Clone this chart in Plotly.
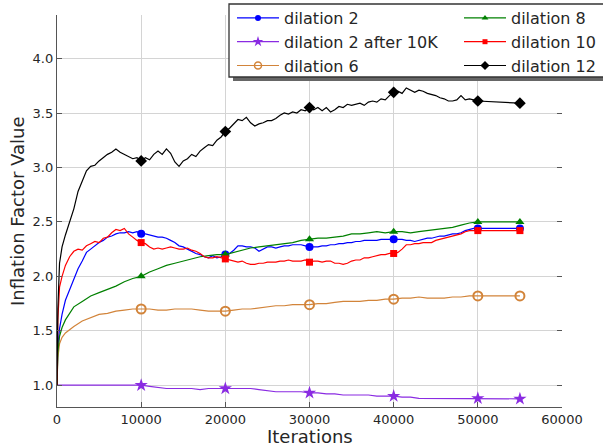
import plotly.graph_objects as go

# ---------------- data ----------------
ITER_FINE = [0, 100, 300, 600,
             1000, 1500, 2000, 2500, 3000, 3500, 4000, 4500, 5000, 5500,
             6000, 6500, 7000, 7500, 8000, 8500, 9000, 9500, 10000, 10500,
             11000, 11500, 12000, 12500, 13000, 13500, 14000, 14500, 15000, 15500,
             16000, 16500, 17000, 17500, 18000, 18500, 19000, 19500, 20000, 20500,
             21000, 21500, 22000, 22500, 23000, 23500, 24000, 24500, 25000, 25500,
             26000, 26500, 27000, 27500, 28000, 28500, 29000, 29500, 30000, 30500,
             31000, 31500, 32000, 32500, 33000, 33500, 34000, 34500, 35000, 35500,
             36000, 36500, 37000, 37500, 38000, 38500, 39000, 39500, 40000, 40500,
             41000, 41500, 42000, 42500, 43000, 43500, 44000, 44500, 45000, 45500,
             46000, 46500, 47000, 47500, 48000, 48500, 49000, 49500, 50000,
             55000]

ITER_COARSE = [0, 100, 300, 600,
               1000, 2000, 3000, 4000, 5000, 6000, 7000, 8000, 9000, 10000,
               11000, 12000, 13000, 14000, 15000, 16000, 17000, 18000, 19000, 20000,
               21000, 22000, 23000, 24000, 25000, 26000, 27000, 28000, 29000, 30000,
               31000, 32000, 33000, 34000, 35000, 36000, 37000, 38000, 39000, 40000,
               41000, 42000, 43000, 44000, 45000, 46000, 47000, 48000, 49000, 50000,
               55000]

MARKER_ITERS = [10000, 20000, 30000, 40000, 50000, 55000]

DIL2 = [1.00, 1.35, 1.52, 1.65,
        1.78, 1.88, 1.97, 2.07, 2.14, 2.22, 2.25, 2.28, 2.31, 2.33,
        2.36, 2.37, 2.39, 2.40, 2.40, 2.41, 2.40, 2.41, 2.39, 2.39,
        2.38, 2.37, 2.36, 2.36, 2.35, 2.33, 2.31, 2.28, 2.27, 2.25,
        2.23, 2.21, 2.20, 2.18, 2.17, 2.19, 2.17, 2.18, 2.20, 2.21,
        2.24, 2.28, 2.28, 2.27, 2.27, 2.26, 2.23, 2.25, 2.27, 2.27,
        2.26, 2.27, 2.28, 2.28, 2.29, 2.29, 2.29, 2.28, 2.27, 2.27,
        2.27, 2.28, 2.28, 2.29, 2.29, 2.30, 2.30, 2.31, 2.31, 2.32,
        2.32, 2.33, 2.33, 2.33, 2.33, 2.34, 2.34, 2.34, 2.34, 2.34,
        2.34, 2.33, 2.33, 2.32, 2.33, 2.34, 2.35, 2.35, 2.36, 2.37,
        2.37, 2.38, 2.39, 2.39, 2.40, 2.42, 2.43, 2.44, 2.44,
        2.44]

DIL10 = [1.00, 1.60, 1.90, 2.00,
         2.10, 2.18, 2.23, 2.25, 2.24, 2.28, 2.30, 2.32, 2.31, 2.35,
         2.36, 2.40, 2.43, 2.42, 2.44, 2.39, 2.36, 2.33, 2.31, 2.30,
         2.27, 2.25, 2.26, 2.25, 2.26, 2.27, 2.26, 2.25, 2.25, 2.26,
         2.24, 2.23, 2.21, 2.18, 2.17, 2.17, 2.18, 2.17, 2.16, 2.15,
         2.14, 2.13, 2.14, 2.12, 2.11, 2.11, 2.12, 2.12, 2.13, 2.13,
         2.13, 2.14, 2.14, 2.15, 2.14, 2.14, 2.14, 2.15, 2.13, 2.14,
         2.14, 2.13, 2.14, 2.14, 2.12, 2.12, 2.11, 2.12, 2.14, 2.15,
         2.15, 2.17, 2.17, 2.18, 2.19, 2.20, 2.20, 2.21, 2.21, 2.22,
         2.25, 2.29, 2.29, 2.30, 2.30, 2.31, 2.31, 2.31, 2.33, 2.34,
         2.35, 2.36, 2.37, 2.38, 2.39, 2.41, 2.42, 2.42, 2.42,
         2.42]

DIL12 = [1.00, 1.70, 2.12, 2.27,
         2.38, 2.50, 2.62, 2.78, 2.88, 2.97, 3.01, 3.02, 3.06, 3.09,
         3.12, 3.14, 3.17, 3.14, 3.12, 3.10, 3.08, 3.09, 3.06, 3.09,
         3.07, 3.12, 3.15, 3.12, 3.17, 3.13, 3.05, 3.01, 3.06, 3.08,
         3.12, 3.10, 3.15, 3.18, 3.21, 3.20, 3.25, 3.28, 3.33, 3.36,
         3.40, 3.44, 3.43, 3.46, 3.41, 3.38, 3.40, 3.41, 3.43, 3.43,
         3.45, 3.48, 3.50, 3.49, 3.51, 3.50, 3.53, 3.52, 3.55, 3.53,
         3.55, 3.52, 3.55, 3.51, 3.53, 3.56, 3.55, 3.58, 3.57, 3.58,
         3.59, 3.57, 3.60, 3.61, 3.60, 3.63, 3.62, 3.66, 3.69, 3.70,
         3.68, 3.73, 3.71, 3.69, 3.71, 3.70, 3.68, 3.67, 3.66, 3.64,
         3.63, 3.61, 3.61, 3.62, 3.66, 3.62, 3.63, 3.62, 3.61,
         3.59]

DIL2_AFTER_10K = [1.00, 1.00, 1.00, 1.00,
                  1.00, 1.00, 1.00, 1.00, 1.00, 1.00, 1.00, 1.00, 1.00, 1.00,
                  0.99, 0.98, 0.97, 0.97, 0.97, 0.97, 0.96, 0.97, 0.97, 0.97,
                  0.97, 0.97, 0.97, 0.96, 0.95, 0.94, 0.94, 0.94, 0.94, 0.93,
                  0.93, 0.92, 0.92, 0.91, 0.91, 0.91, 0.91, 0.90, 0.90, 0.90,
                  0.89, 0.89, 0.88, 0.88, 0.88, 0.88, 0.88, 0.88, 0.88, 0.88,
                  0.875]

DIL6 = [1.00, 1.25, 1.38, 1.44,
        1.48, 1.54, 1.59, 1.62, 1.65, 1.66, 1.68, 1.69, 1.70, 1.70,
        1.70, 1.69, 1.69, 1.70, 1.70, 1.70, 1.69, 1.68, 1.68, 1.68,
        1.69, 1.70, 1.70, 1.71, 1.72, 1.73, 1.73, 1.74, 1.74, 1.74,
        1.75, 1.75, 1.76, 1.77, 1.77, 1.77, 1.78, 1.78, 1.79, 1.79,
        1.80, 1.80, 1.81, 1.80, 1.80, 1.80, 1.81, 1.81, 1.82, 1.82,
        1.82]

DIL8 = [1.00, 1.30, 1.45, 1.53,
        1.60, 1.72, 1.77, 1.82, 1.85, 1.88, 1.91, 1.95, 1.98, 2.00,
        2.04, 2.07, 2.10, 2.12, 2.14, 2.16, 2.18, 2.19, 2.20, 2.20,
        2.22, 2.24, 2.26, 2.27, 2.28, 2.29, 2.30, 2.31, 2.33, 2.34,
        2.35, 2.35, 2.36, 2.37, 2.39, 2.39, 2.40, 2.41, 2.40, 2.41,
        2.41, 2.40, 2.41, 2.42, 2.43, 2.44, 2.45, 2.47, 2.49, 2.50,
        2.50]

Y_TICKS = [1.0, 1.5, 2.0, 2.5, 3.0, 3.5, 4.0]
X_TICKS = [0, 10000, 20000, 30000, 40000, 50000, 60000]
X_TITLE = "Iterations"
Y_TITLE = "Inflation Factor Value"

# ---------------- figure ----------------
FONT = "DejaVu Sans"
TXT = "#262626"
AX = "#555555"
GRID = "#d4d4d4"

series = [
    # name, x, y, color, symbol, size, legend
    ("dilation 2", ITER_FINE, DIL2, "#0000ff", "circle", 8, "legend"),
    ("dilation 2 after 10K", ITER_COARSE, DIL2_AFTER_10K, "#8a2be2", "star", 10, "legend"),
    ("dilation 6", ITER_COARSE, DIL6, "#d2843a", "circle-open", 9, "legend"),
    ("dilation 8", ITER_COARSE, DIL8, "#008000", "triangle-up", 8, "legend2"),
    ("dilation 10", ITER_FINE, DIL10, "#ff0000", "square", 7, "legend2"),
    ("dilation 12", ITER_FINE, DIL12, "#000000", "diamond", 9, "legend2"),
]

fig = go.Figure()
for name, xs, ys, col, sym, sz, leg in series:
    mline = dict(color=col, width=2) if sym.endswith("open") else dict(width=0)
    fig.add_trace(go.Scatter(x=xs, y=ys, mode="lines", line=dict(color=col, width=1.2),
                             showlegend=False, hoverinfo="skip"))
    mx = [x for x in xs if x in MARKER_ITERS]
    my = [y for x, y in zip(xs, ys) if x in MARKER_ITERS]
    fig.add_trace(go.Scatter(x=mx, y=my, mode="markers",
                             marker=dict(color=col, symbol=sym, size=sz, line=mline),
                             showlegend=False))
    lmline = dict(color=col, width=1.5) if sym.endswith("open") else dict(width=0)
    fig.add_trace(go.Scatter(x=[None], y=[None], mode="lines+markers", name=name,
                             line=dict(color=col, width=1.2),
                             marker=dict(color=col, symbol=sym, size=sz - 2, line=lmline),
                             legend=leg, showlegend=True))

W, H = 603, 448
L, R, T, B = 57, 41, 15, 41
PW, PH = W - L - R, H - T - B


def px_x(p):
    return (p - L) / PW


def px_y(p):
    return (H - B - p) / PH


LEG_FONT = dict(family=FONT, size=16, color=TXT)

fig.update_layout(
    width=W, height=H,
    margin=dict(l=L, r=R, t=T, b=B, pad=0, autoexpand=False),
    plot_bgcolor="white", paper_bgcolor="white",
    font=dict(family=FONT, size=13, color=TXT),
    xaxis=dict(range=[0, 60000], tickvals=X_TICKS, tickformat="d",
               showgrid=True, gridcolor=GRID, gridwidth=1, zeroline=False,
               showline=True, linecolor=AX, linewidth=1.3,
               ticks="inside", ticklen=5, tickcolor=AX,
               automargin=False),
    yaxis=dict(range=[0.8, 4.4], tickvals=Y_TICKS, tickformat=".1f",
               showgrid=True, gridcolor=GRID, gridwidth=1, zeroline=False,
               showline=True, linecolor=AX, linewidth=1.3,
               ticks="inside", ticklen=5, tickcolor=AX,
               automargin=False),
    yaxis2=dict(range=[0.8, 4.4], tickvals=Y_TICKS, overlaying="y", side="right",
                anchor="x", showticklabels=False, showgrid=False, zeroline=False,
                showline=False, ticks="inside", ticklen=5, tickcolor=AX,
                automargin=False),
    legend=dict(xref="container", yref="container",
                x=232 / W, y=1 - 1 / H, xanchor="left", yanchor="top",
                bgcolor="rgba(0,0,0,0)", borderwidth=0, itemwidth=42,
                font=LEG_FONT),
    legend2=dict(xref="container", yref="container",
                 x=459 / W, y=1 - 1 / H, xanchor="left", yanchor="top",
                 bgcolor="rgba(0,0,0,0)", borderwidth=0, itemwidth=42,
                 font=LEG_FONT),
    annotations=[
        dict(text=X_TITLE, xref="paper", yref="paper", x=0.5, y=px_y(437),
             xanchor="center", yanchor="middle", showarrow=False,
             font=dict(family=FONT, size=18, color=TXT)),
        dict(text=Y_TITLE, xref="paper", yref="paper", x=px_x(17), y=0.5,
             xanchor="center", yanchor="middle", textangle=-90, showarrow=False,
             font=dict(family=FONT, size=18, color=TXT)),
    ],
    shapes=[
        dict(type="rect", xref="paper", yref="paper", layer="above",
             x0=px_x(233), x1=px_x(612), y0=px_y(81), y1=px_y(8),
             fillcolor="#666666", line=dict(width=0)),
        dict(type="rect", xref="paper", yref="paper", layer="above",
             x0=px_x(229), x1=px_x(608), y0=px_y(77), y1=px_y(4),
             fillcolor="white", line=dict(color="#333333", width=1.3)),
    ],
)

# dummy trace to activate the right-hand tick axis
fig.add_trace(go.Scatter(x=[None], y=[None], yaxis="y2", showlegend=False))

fig.write_html("out.html", config={"displayModeBar": False},
               post_script="document.body.style.margin='0';")
